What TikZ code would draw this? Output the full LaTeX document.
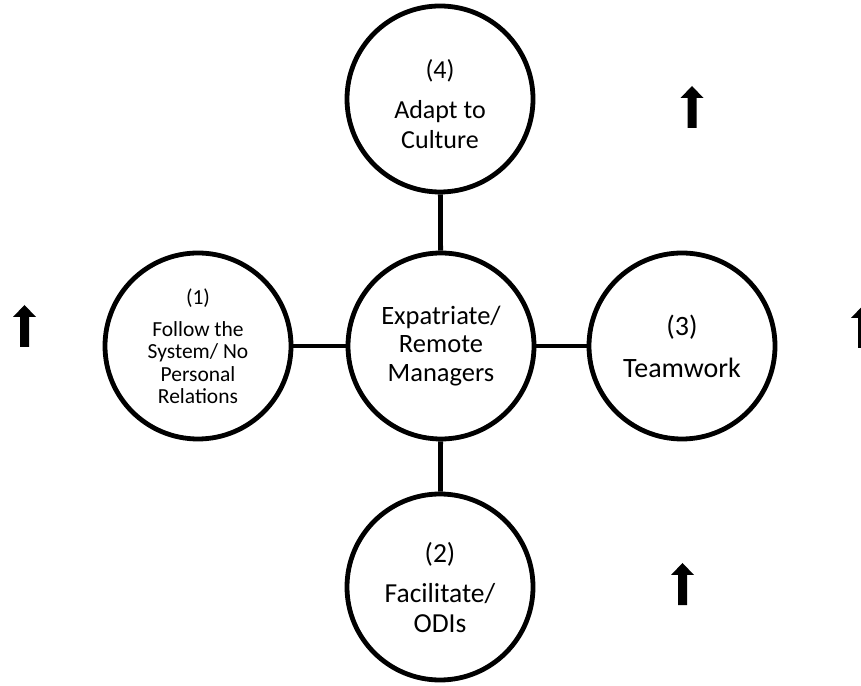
\documentclass[tikz,border=0pt]{standalone}
\usepackage{fontspec}
\setmainfont{Carlito}
\begin{document}
\begin{tikzpicture}[x=1pt,y=1pt,
  bubble/.style={circle,draw=black,line width=4.8pt,minimum size=186pt,inner sep=0pt,align=center},
  link/.style={draw=black,line width=4.8pt},
  pics/uparrow/.style={code={
    \fill[black] (0,0) -- (-11.5,-12) -- (-4.5,-12) -- (-4.5,-42) -- (4.5,-42) -- (4.5,-12) -- (11.5,-12) -- cycle;}}
]
\useasboundingbox (0,0) rectangle (861,685);

% hub
\node[bubble,font=\fontsize{26.5}{28.5}\selectfont] (hub) at (441,339) {Expatriate/\\Remote\\Managers};

% four satellites (a tall strut on the first line lowers the top label a little)
\node[bubble,font=\fontsize{26}{30}\selectfont] (culture) at (440,586)
  {\rule{0pt}{29pt}(4)\\[10pt]Adapt to\\Culture};
\node[bubble,font=\fontsize{21.5}{22.5}\selectfont] (system) at (198,339)
  {(1)\\[9.5pt]Follow the\\System/ No\\Personal\\Relations};
\node[bubble,font=\fontsize{28}{30}\selectfont] (team) at (682,339)
  {(3)\\[12pt]Teamwork};
\node[bubble,font=\fontsize{27.5}{30}\selectfont] (facil) at (440,98)
  {\rule{0pt}{22pt}(2)\\[10pt]Facilitate/\\ODIs};

% spokes
\draw[link] (hub) -- (culture);
\draw[link] (hub) -- (system);
\draw[link] (hub) -- (team);
\draw[link] (hub) -- (facil);

% up arrows
\pic at (24.5,380) {uparrow};
\pic at (692,599) {uparrow};
\pic at (682.5,122) {uparrow};
\pic at (862.5,379) {uparrow};
\end{tikzpicture}
\end{document}
